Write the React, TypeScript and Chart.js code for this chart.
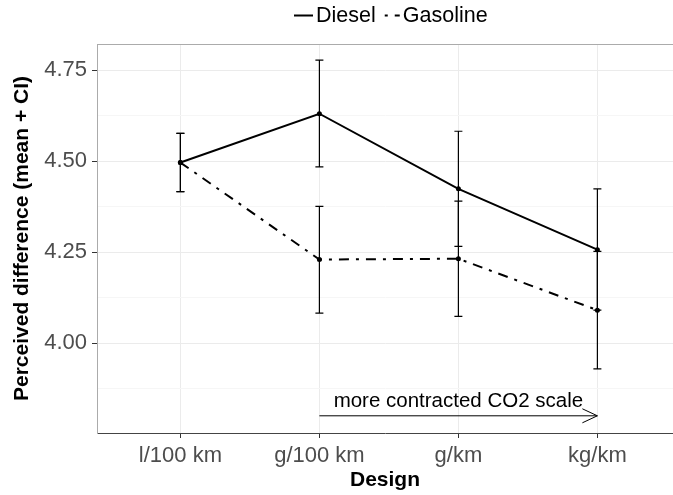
import React, { useEffect, useRef } from "react";
import { Chart, registerables } from "chart.js";

Chart.register(...registerables);

const categories = ["l/100 km", "g/100 km", "g/km", "kg/km"];
const dieselMean = [4.496, 4.63, 4.424, 4.257];
const dieselLower = [4.416, 4.484, 4.266, 4.091];
const dieselUpper = [4.576, 4.777, 4.582, 4.424];
const gasolineMean = [4.496, 4.23, 4.232, 4.091];
const gasolineLower = [4.416, 4.083, 4.074, 3.93];
const gasolineUpper = [4.576, 4.376, 4.39, 4.252];
const yMajorTicks = [4.0, 4.25, 4.5, 4.75];
const yMinorTicks = [3.875, 4.125, 4.375, 4.625];
const annotationText = "more contracted CO2 scale";
const annotationFrom = 2;
const annotationTo = 4;
const annotationArrowY = 3.801;
const annotationTextY = 3.842;

const FONT = "'Liberation Sans', Arial, Helvetica, sans-serif";

const errorBarPlugin = {
  id: "errorBars",
  afterDatasetsDraw(chart: any) {
    const { ctx, scales } = chart;
    const xs = scales.x;
    const ys = scales.y;
    ctx.save();
    ctx.strokeStyle = "#000";
    ctx.lineWidth = 1.2;
    ctx.setLineDash([]);
    chart.data.datasets.forEach((ds: any) => {
      ds.data.forEach((pt: any, j: number) => {
        const x = xs.getPixelForValue(pt.x);
        const yl = ys.getPixelForValue(ds.errLower[j]);
        const yu = ys.getPixelForValue(ds.errUpper[j]);
        ctx.beginPath();
        ctx.moveTo(x, yl);
        ctx.lineTo(x, yu);
        ctx.moveTo(x - 4, yl);
        ctx.lineTo(x + 4, yl);
        ctx.moveTo(x - 4, yu);
        ctx.lineTo(x + 4, yu);
        ctx.stroke();
      });
    });
    ctx.restore();
  },
};

const decorPlugin = {
  id: "decor",
  beforeDatasetsDraw(chart: any) {
    const { ctx, chartArea } = chart;
    ctx.save();
    ctx.strokeStyle = "#ababab";
    ctx.lineWidth = 1;
    ctx.beginPath();
    ctx.moveTo(chartArea.left, chartArea.top + 0.5);
    ctx.lineTo(chart.width, chartArea.top + 0.5);
    ctx.stroke();
    ctx.restore();
  },
  afterDraw(chart: any) {
    const { ctx, scales } = chart;
    const xs = scales.x;
    const ys = scales.y;
    ctx.save();
    // annotation arrow
    const x1 = xs.getPixelForValue(annotationFrom);
    const x2 = xs.getPixelForValue(annotationTo);
    const ya = ys.getPixelForValue(annotationArrowY);
    ctx.strokeStyle = "#000";
    ctx.lineWidth = 1;
    ctx.setLineDash([]);
    ctx.beginPath();
    ctx.moveTo(x1, ya);
    ctx.lineTo(x2, ya);
    ctx.moveTo(x2 - 15, ya - 7);
    ctx.lineTo(x2, ya);
    ctx.lineTo(x2 - 15, ya + 7);
    ctx.stroke();
    ctx.fillStyle = "#000";
    ctx.font = `20.5px ${FONT}`;
    ctx.textAlign = "center";
    ctx.textBaseline = "middle";
    ctx.fillText(annotationText, xs.getPixelForValue((annotationFrom + annotationTo) / 2), ys.getPixelForValue(annotationTextY));

    // legend
    ctx.textAlign = "left";
    ctx.font = `21.5px ${FONT}`;
    let x = 294;
    const y = 15.5;
    chart.data.datasets.forEach((ds: any) => {
      ctx.beginPath();
      ctx.strokeStyle = "#000";
      ctx.lineWidth = 2;
      ctx.setLineDash(ds.borderDash || []);
      ctx.lineDashOffset = ds.borderDash && ds.borderDash.length ? 13 : 0;
      ctx.moveTo(x, y);
      ctx.lineTo(x + 19, y);
      ctx.stroke();
      ctx.setLineDash([]);
      ctx.lineDashOffset = 0;
      ctx.fillText(ds.label, x + 22, y + 1);
      x += 22 + ctx.measureText(ds.label).width + 5;
    });
    ctx.restore();
  },
};

export default function App() {
  const ref = useRef<HTMLCanvasElement>(null);
  useEffect(() => {
    document.body.style.margin = "0";
    const mk = (means: number[]) => means.map((v, i) => ({ x: i + 1, y: v }));
    const chart = new Chart(ref.current as HTMLCanvasElement, {
      type: "line",
      data: {
        datasets: [
          {
            label: "Diesel",
            data: mk(dieselMean),
            errLower: dieselLower,
            errUpper: dieselUpper,
            borderColor: "#000",
            backgroundColor: "#000",
            borderWidth: 2,
            pointRadius: 2.5,
            pointBorderWidth: 0,
            pointBackgroundColor: "#000",
            borderDash: [],
            tension: 0,
          } as any,
          {
            label: "Gasoline",
            data: mk(gasolineMean),
            errLower: gasolineLower,
            errUpper: gasolineUpper,
            borderColor: "#000",
            backgroundColor: "#000",
            borderWidth: 2,
            pointRadius: 2.5,
            pointBorderWidth: 0,
            pointBackgroundColor: "#000",
            borderDash: [10, 7, 3, 7],
            tension: 0,
          } as any,
        ],
      },
      options: {
        animation: false,
        responsive: false,
        layout: { autoPadding: false, padding: { top: 44, left: 0, right: 0, bottom: 0 } },
        plugins: { legend: { display: false }, tooltip: { enabled: false } },
        scales: {
          x: {
            type: "linear",
            min: 0.4,
            max: 4.544,
            afterBuildTicks: (s: any) => {
              s.ticks = categories.map((_, i) => ({ value: i + 1 }));
            },
            afterFit: (s: any) => {
              s.height = 62;
              s.paddingLeft = 0;
              s.paddingRight = 0;
            },
            ticks: {
              autoSkip: false,
              maxRotation: 0,
              padding: 5,
              color: "#4d4d4d",
              font: { family: FONT, size: 22 },
              callback: (v: any) => categories[Math.round(Number(v)) - 1] ?? "",
            },
            grid: { color: "#ebebeb", tickColor: "#333", tickLength: 5, lineWidth: 1 },
            border: { color: "#444", width: 1 },
            title: {
              display: true,
              text: "Design",
              color: "#000",
              font: { family: FONT, size: 21, weight: "bold", lineHeight: 1 },
              padding: { top: 0, bottom: 4 },
            },
          },
          y: {
            type: "linear",
            min: 3.7538,
            max: 4.8214,
            afterBuildTicks: (s: any) => {
              s.ticks = [...yMinorTicks, ...yMajorTicks]
                .sort((a, b) => a - b)
                .map((v) => ({ value: v }));
            },
            afterFit: (s: any) => {
              s.width = 97;
            },
            ticks: {
              autoSkip: false,
              padding: 5,
              color: "#4d4d4d",
              font: { family: FONT, size: 22 },
              callback: (v: any) => (yMajorTicks.includes(Number(v)) ? Number(v).toFixed(2) : ""),
            },
            grid: {
              color: (c: any) => (c.tick && yMajorTicks.includes(c.tick.value) ? "#ebebeb" : "#f6f6f6"),
              tickColor: (c: any) => (c.tick && yMajorTicks.includes(c.tick.value) ? "#333" : "rgba(0,0,0,0)"),
              tickLength: 5,
              lineWidth: 1,
            },
            border: { color: "#ababab", width: 1 },
            title: {
              display: true,
              text: "Perceived difference (mean + CI)",
              color: "#000",
              font: { family: FONT, size: 21, weight: "bold", lineHeight: 1 },
              padding: { top: 12, bottom: 0 },
            },
          },
        },
      } as any,
      plugins: [decorPlugin, errorBarPlugin],
    });
    return () => chart.destroy();
  }, []);
  return (
    <div style={{ position: "absolute", left: 0, top: 0, width: 673, height: 495 }}>
      <canvas ref={ref} width={673} height={495} />
    </div>
  );
}
